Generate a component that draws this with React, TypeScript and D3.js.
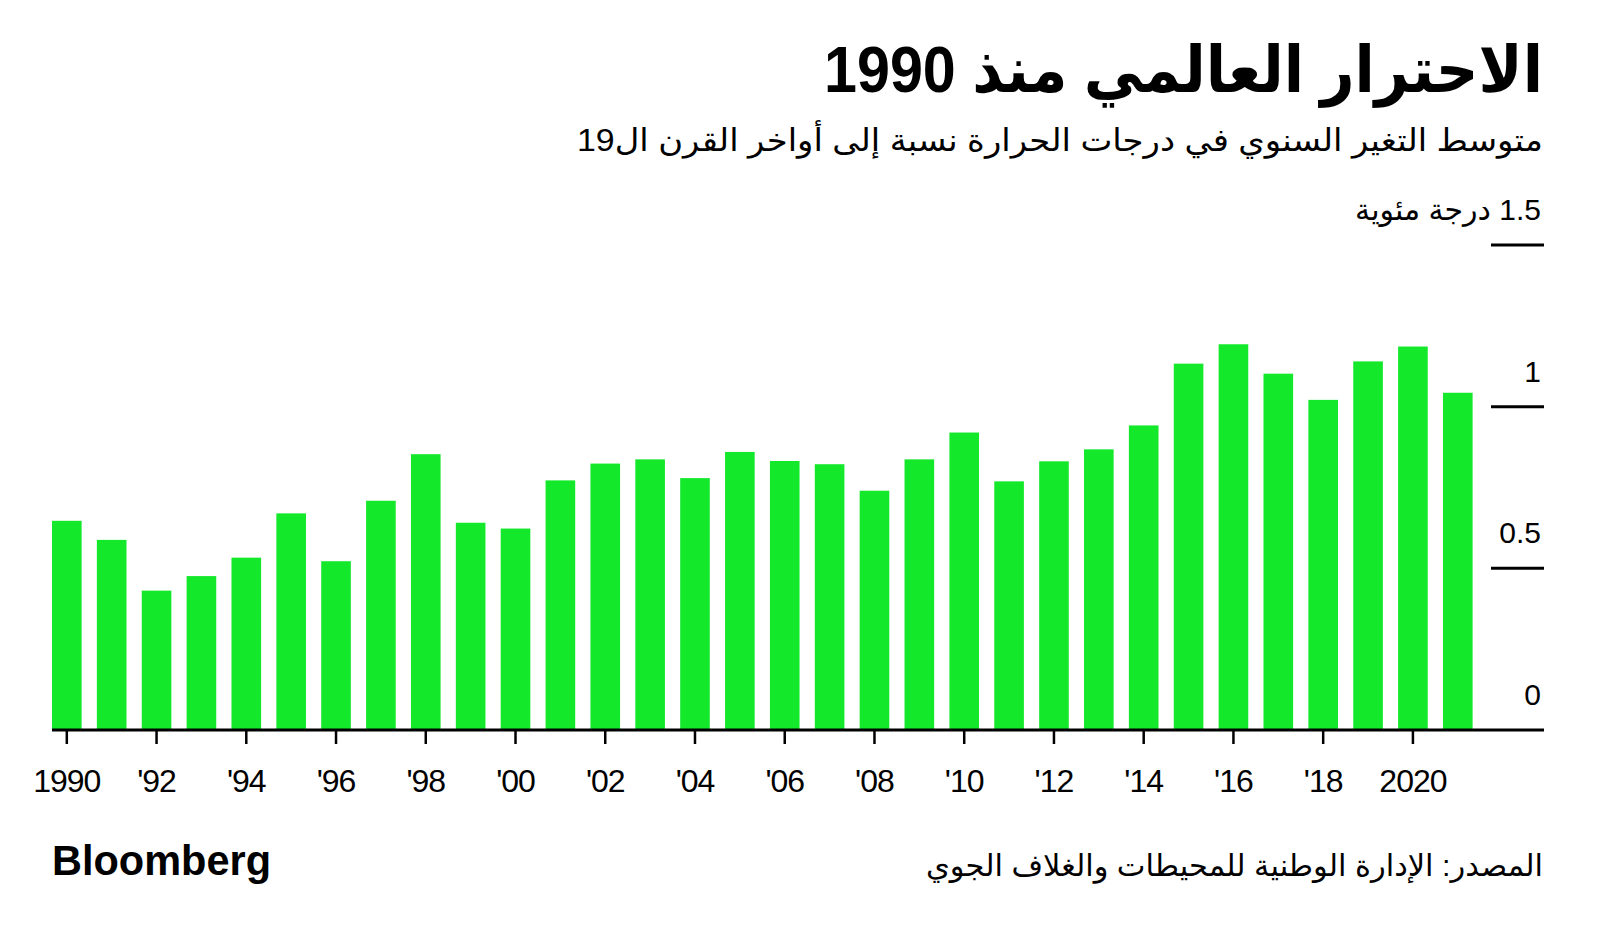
import React from "react";
import * as d3 from "d3";

const years: number[] = d3.range(1990, 2022);
const anomalies: number[] = [
  0.647, 0.588, 0.431, 0.476, 0.533, 0.67, 0.522, 0.709, 0.853, 0.641,
  0.623, 0.772, 0.824, 0.837, 0.779, 0.86, 0.832, 0.822, 0.74, 0.837,
  0.92, 0.769, 0.831, 0.868, 0.942, 1.133, 1.193, 1.102, 1.021, 1.14,
  1.186, 1.043,
];
const tickYears: number[] = [1990, 1992, 1994, 1996, 1998, 2000, 2002, 2004, 2006, 2008, 2010, 2012, 2014, 2016, 2018, 2020];
const tickLabels: string[] = ["1990", "'92", "'94", "'96", "'98", "'00", "'02", "'04", "'06", "'08", "'10", "'12", "'14", "'16", "'18", "2020"];
const yTicks: number[] = [0, 0.5, 1, 1.5];
const yTickLabels: string[] = ["0", "0.5", "1", "1.5 درجة مئوية"];

const title = "الاحترار العالمي منذ 1990";
const subtitle = "متوسط التغير السنوي في درجات الحرارة نسبة إلى أواخر القرن ال19";
const source = "المصدر: الإدارة الوطنية للمحيطات والغلاف الجوي";

const W = 1600;
const H = 940;
const GREEN = "#13e82b";
const FONT = "'Liberation Sans', 'DejaVu Sans', Arial, sans-serif";

export default function App() {
  const x = d3
    .scaleBand<number>()
    .domain(years)
    .range([52, 1472.6])
    .paddingInner(0.34)
    .paddingOuter(0);
  const y = d3.scaleLinear().domain([0, 1.5]).range([730, 245]);
  const right = 1543;

  return (
    <svg
      width={W}
      height={H}
      viewBox={`0 0 ${W} ${H}`}
      style={{ position: "absolute", left: 0, top: 0, display: "block", background: "#fff" }}
      fontFamily={FONT}
    >
      <rect x={0} y={0} width={W} height={H} fill="#fff" />
      <text
        x={right}
        y={92}
        direction="rtl"
        textAnchor="start"
        fontSize={64}
        fontWeight={700}
        textLength={719}
        lengthAdjust="spacingAndGlyphs"
        fill="#000"
      >
        {title}
      </text>
      <text
        x={right}
        y={151}
        direction="rtl"
        textAnchor="start"
        fontSize={31}
        textLength={966}
        lengthAdjust="spacingAndGlyphs"
        fill="#000"
      >
        {subtitle}
      </text>

      {anomalies.map((v, i) => (
        <rect
          key={years[i]}
          x={x(years[i])}
          y={y(v)}
          width={x.bandwidth()}
          height={y(0) - y(v)}
          fill={GREEN}
        />
      ))}

      {yTicks.map((t) =>
        t === 0 ? null : (
          <line key={"g" + t} x1={1491} x2={1544} y1={y(t)} y2={y(t)} stroke="#000" strokeWidth={3} />
        )
      )}
      {yTicks.map((t, i) => (
        <text
          key={"yl" + t}
          x={1541}
          y={y(t) - 25}
          direction="rtl"
          textAnchor="start"
          fontSize={30}
          fill="#000"
        >
          {yTickLabels[i]}
        </text>
      ))}

      <line x1={52} x2={1544} y1={y(0)} y2={y(0)} stroke="#000" strokeWidth={3} />

      {tickYears.map((yr, i) => {
        const cx = (x(yr) as number) + x.bandwidth() / 2;
        return (
          <g key={"t" + yr}>
            <line x1={cx} x2={cx} y1={y(0)} y2={y(0) + 14} stroke="#000" strokeWidth={2.5} />
            <text x={cx} y={792} textAnchor="middle" fontSize={32} letterSpacing={-1} fill="#000">
              {tickLabels[i]}
            </text>
          </g>
        );
      })}

      <text
        x={52}
        y={875}
        fontSize={43}
        fontWeight={700}
        textLength={219}
        lengthAdjust="spacingAndGlyphs"
        fill="#000"
      >
        Bloomberg
      </text>
      <text
        x={right}
        y={876}
        direction="rtl"
        textAnchor="start"
        fontSize={30}
        textLength={617}
        lengthAdjust="spacingAndGlyphs"
        fill="#000"
      >
        {source}
      </text>
    </svg>
  );
}
